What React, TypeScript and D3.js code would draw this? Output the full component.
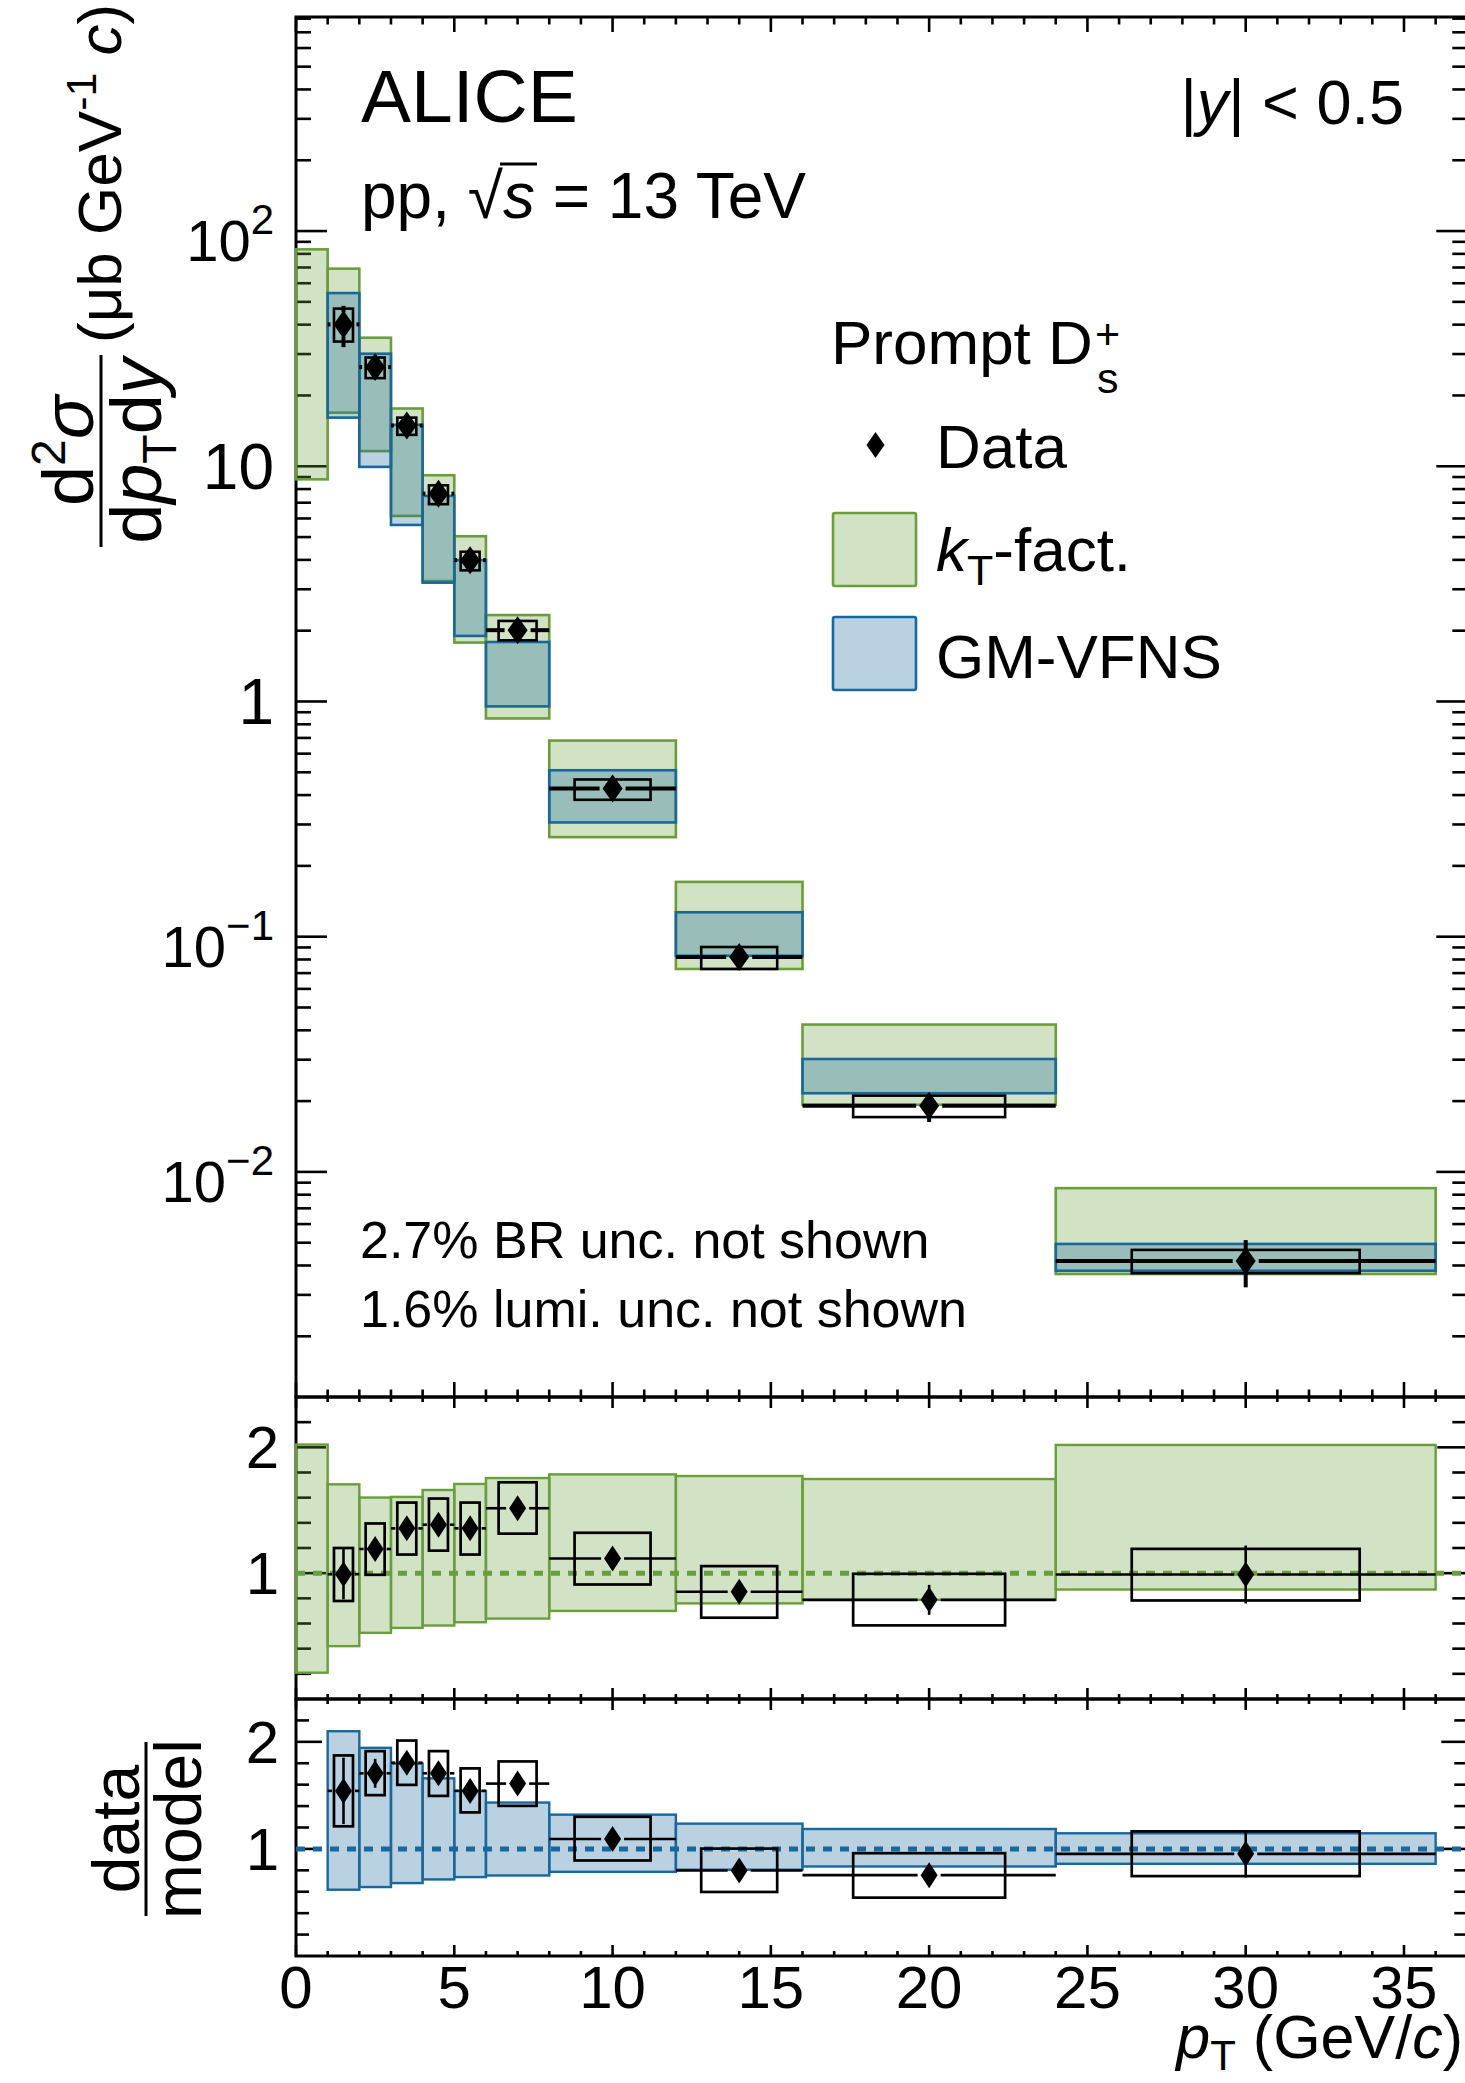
import React from 'react'
import * as d3 from 'd3'

const FONT = "'Liberation Sans', Arial, Helvetica, sans-serif"

// pT bins of the measurement (GeV/c)
const binLo = [1, 2, 3, 4, 5, 6, 8, 12, 16, 24]
const binHi = [2, 3, 4, 5, 6, 8, 12, 16, 24, 36]

// d2sigma/dpTdy (ub GeV^-1 c)
const xsec = [40.1, 26.4, 14.9, 7.65, 3.99, 2.01, 0.427, 0.082, 0.0191, 0.00418]
const xsecStat = [8.0, 2.1, 0.75, 0.38, 0.2, 0.1, 0.022, 0.0045, 0.0028, 0.00095]
const xsecSystLo = [33.9, 23.7, 13.6, 6.9, 3.61, 1.82, 0.382, 0.0729, 0.0171, 0.00371]
const xsecSystHi = [46.8, 29.0, 16.1, 8.3, 4.33, 2.2, 0.466, 0.0904, 0.0211, 0.00466]

// kT-factorisation prediction (one extra bin 0-1)
const ktBinLo = [0, 1, 2, 3, 4, 5, 6, 8, 12, 16, 24]
const ktBinHi = [1, 2, 3, 4, 5, 6, 8, 12, 16, 24, 36]
const ktMin = [8.8, 16.9, 11.6, 6.15, 3.25, 1.78, 0.847, 0.265, 0.0729, 0.0193, 0.00368]
const ktMax = [83.6, 69.2, 35.2, 17.6, 9.16, 5.04, 2.33, 0.682, 0.171, 0.0423, 0.00853]

// GM-VFNS prediction
const gmMin = [16.1, 9.94, 5.63, 3.2, 1.9, 0.953, 0.306, 0.083, 0.0216, 0.0038]
const gmMax = [54.5, 30.1, 15.0, 7.48, 3.99, 1.79, 0.51, 0.127, 0.0302, 0.00494]

// data / kT-fact.
const ratioKt = [0.992, 1.192, 1.356, 1.385, 1.356, 1.516, 1.116, 0.852, 0.788, 0.989]
const ratioKtStat = [0.2, 0.094, 0.068, 0.069, 0.068, 0.076, 0.06, 0.045, 0.119, 0.23]
const ratioKtSystLo = [0.779, 0.987, 1.148, 1.179, 1.148, 1.314, 0.91, 0.646, 0.585, 0.783]
const ratioKtSystHi = [1.2, 1.395, 1.561, 1.593, 1.561, 1.722, 1.321, 1.056, 0.995, 1.193]
const ktBandMin = [0.209, 0.42, 0.526, 0.565, 0.584, 0.61, 0.639, 0.7, 0.76, 0.788, 0.87]
const ktBandMax = [2.022, 1.706, 1.601, 1.606, 1.661, 1.709, 1.756, 1.785, 1.772, 1.748, 2.019]

// data / GM-VFNS
const ratioGm = [1.542, 1.706, 1.805, 1.706, 1.542, 1.61, 1.093, 0.799, 0.755, 0.954]
const ratioGmStat = [0.31, 0.135, 0.09, 0.085, 0.077, 0.08, 0.066, 0.045, 0.11, 0.22]
const ratioGmSystLo = [1.211, 1.502, 1.598, 1.495, 1.341, 1.402, 0.892, 0.598, 0.545, 0.746]
const ratioGmSystHi = [1.873, 1.913, 2.012, 1.913, 1.752, 1.817, 1.3, 1.003, 0.96, 1.164]
const gmBandMin = [0.619, 0.644, 0.681, 0.715, 0.737, 0.752, 0.786, 0.806, 0.836, 0.861]
const gmBandMax = [2.099, 1.944, 1.796, 1.659, 1.542, 1.433, 1.32, 1.236, 1.186, 1.146]

// tick labels
const xLabels = [0, 5, 10, 15, 20, 25, 30, 35]
const yTopLabels = [
  {v: 100, base: '10', exp: '2'},
  {v: 10, base: '10', exp: ''},
  {v: 1, base: '1', exp: ''},
  {v: 0.1, base: '10', exp: '\u22121'},
  {v: 0.01, base: '10', exp: '\u22122'},
]
const yRatioLabels = [1, 2]

const GREEN = '#6a9e3a'
const GREEN_FILL = 'rgba(106,158,58,0.3)'
const BLUE = '#18689d'
const BLUE_FILL = 'rgba(24,104,157,0.3)'

const x = d3.scaleLinear().domain([0, 37]).range([296, 1467.3])
const yTop = d3.scaleLog().domain([1.104e-3, 813]).range([1397, 17])
const yMid = d3.scaleLinear().domain([0, 2.4]).range([1699, 1397])
const yBot = d3.scaleLinear().domain([0, 2.4]).range([1956, 1699])
const XL = x(0), XR = x(37)

const Bands = ({lo, hi, min, max, y, stroke, fill, sw}) => (
  <g>
    {lo.map((l, i) => (
      <rect key={i} x={x(l)} y={y(max[i])} width={x(hi[i]) - x(l)}
        height={y(min[i]) - y(max[i])} fill={fill} stroke={stroke} strokeWidth={sw}/>
    ))}
  </g>
)

const Points = ({val, stat, sLo, sHi, y, lw, boxW, mw, mh}) => (
  <g>
    {binLo.map((l, i) => {
      const h = binHi[i]
      const c = (l + h) / 2
      const cx = x(c), cy = y(val[i])
      const half = 0.3 * (h - l)
      const yUp = y(val[i] + stat[i]), yDn = y(val[i] - stat[i])
      const gap = mw + 3
      return (
        <g key={i}>
          <line x1={x(l)} x2={cx - gap} y1={cy} y2={cy} stroke="#000" strokeWidth={lw}/>
          <line x1={cx + gap} x2={x(h)} y1={cy} y2={cy} stroke="#000" strokeWidth={lw}/>
          {cy - yUp > mh && <line x1={cx} x2={cx} y1={yUp} y2={cy - mh + 2} stroke="#000" strokeWidth={lw}/>}
          {yDn - cy > mh && <line x1={cx} x2={cx} y1={cy + mh - 2} y2={yDn} stroke="#000" strokeWidth={lw}/>}
          <rect x={x(c - half)} y={y(sHi[i])} width={x(c + half) - x(c - half)}
            height={y(sLo[i]) - y(sHi[i])} fill="none" stroke="#000" strokeWidth={boxW}/>
          <path d={`M${cx},${cy - mh}L${cx + mw},${cy}L${cx},${cy + mh}L${cx - mw},${cy}Z`} fill="#000"/>
        </g>
      )
    })}
  </g>
)

const XTicks = ({yT, yB, maj, min}) => (
  <g stroke="#000" strokeWidth={2.6}>
    {d3.range(0, 38).map(v => {
      const len = v % 5 === 0 ? maj : min
      return (
        <g key={v}>
          <line x1={x(v)} x2={x(v)} y1={yB} y2={yB - len}/>
          <line x1={x(v)} x2={x(v)} y1={yT} y2={yT + len}/>
        </g>
      )
    })}
  </g>
)

const YTicks = ({ticks, y, maj, min}) => (
  <g stroke="#000" strokeWidth={2.6}>
    {ticks.map((t, i) => {
      const len = t.major ? maj : min
      return (
        <g key={i}>
          <line x1={XL} x2={XL + len} y1={y(t.v)} y2={y(t.v)}/>
          <line x1={XR} x2={XR - len} y1={y(t.v)} y2={y(t.v)}/>
        </g>
      )
    })}
  </g>
)

const topTicks = d3.range(-3, 3)
  .flatMap(e => d3.range(1, 10).map(k => ({v: k * Math.pow(10, e), major: k === 1})))
  .filter(t => t.v > 1.104e-3 && t.v < 813)
const ratioTicks = d3.range(1, 12).map(i => ({v: i * 0.2, major: i === 5 || i === 10}))

export default function App() {
  return (
    <svg width={1465} height={2083} style={{position: 'absolute', left: 0, top: 0}}
      fontFamily={FONT}>
      <rect width={1465} height={2083} fill="#fff"/>

      {/* frames and ticks */}
      <g fill="none" stroke="#000" strokeWidth={3}>
        <rect x={XL} y={17} width={XR - XL} height={1397 - 17}/>
        <rect x={XL} y={1397} width={XR - XL} height={1699 - 1397}/>
        <rect x={XL} y={1699} width={XR - XL} height={1956 - 1699}/>
      </g>
      <XTicks yT={17} yB={1397} maj={15} min={7.5}/>
      <XTicks yT={1397} yB={1699} maj={11} min={5}/>
      <XTicks yT={1699} yB={1956} maj={11} min={5}/>
      <YTicks ticks={topTicks} y={yTop} maj={31} min={15}/>
      <YTicks ticks={ratioTicks} y={yMid} maj={30} min={15}/>
      <YTicks ticks={ratioTicks} y={yBot} maj={26} min={13}/>

      {/* top pad */}
      <Bands lo={ktBinLo} hi={ktBinHi} min={ktMin} max={ktMax} y={yTop} stroke={GREEN} fill={GREEN_FILL} sw={2.6}/>
      <Bands lo={binLo} hi={binHi} min={gmMin} max={gmMax} y={yTop} stroke={BLUE} fill={BLUE_FILL} sw={2.6}/>
      <Points val={xsec} stat={xsecStat} sLo={xsecSystLo} sHi={xsecSystHi} y={yTop}
        lw={4} boxW={2.6} mw={10} mh={14}/>

      {/* middle pad: data / kT-fact. */}
      <Bands lo={ktBinLo} hi={ktBinHi} min={ktBandMin} max={ktBandMax} y={yMid} stroke={GREEN} fill={GREEN_FILL} sw={2.4}/>
      <line x1={XL} x2={XR} y1={yMid(1)} y2={yMid(1)} stroke={GREEN} strokeWidth={5} strokeDasharray="9 8"/>
      <Points val={ratioKt} stat={ratioKtStat} sLo={ratioKtSystLo} sHi={ratioKtSystHi} y={yMid}
        lw={2.6} boxW={2.7} mw={8.5} mh={13}/>

      {/* bottom pad: data / GM-VFNS */}
      <Bands lo={binLo} hi={binHi} min={gmBandMin} max={gmBandMax} y={yBot} stroke={BLUE} fill={BLUE_FILL} sw={2.4}/>
      <line x1={XL} x2={XR} y1={yBot(1)} y2={yBot(1)} stroke={BLUE} strokeWidth={5} strokeDasharray="9 8"/>
      <Points val={ratioGm} stat={ratioGmStat} sLo={ratioGmSystLo} sHi={ratioGmSystHi} y={yBot}
        lw={2.6} boxW={2.7} mw={8.5} mh={13}/>

      {/* tick labels */}
      {yTopLabels.map(l => l.exp ? (
        <text key={l.v} x={274} y={yTop(l.v) + 30} textAnchor="end" fontSize={58}>
          {l.base}<tspan fontSize={42} dy={-27}>{l.exp}</tspan>
        </text>
      ) : (
        <text key={l.v} x={274} y={yTop(l.v) + 23} textAnchor="end" fontSize={64}>{l.base}</text>
      ))}
      {yRatioLabels.map(v => (
        <g key={v}>
          <text x={279} y={yMid(v) + 21} textAnchor="end" fontSize={60}>{v}</text>
          <text x={279} y={yBot(v) + 21} textAnchor="end" fontSize={60}>{v}</text>
        </g>
      ))}
      {xLabels.map(v => (
        <text key={v} x={x(v)} y={2008} textAnchor="middle" fontSize={60}>{v}</text>
      ))}
      <text x={1463} y={2058} textAnchor="end" fontSize={61}>
        <tspan fontStyle="italic">p</tspan><tspan fontSize={42} dy={12}>T</tspan>
        <tspan dy={-12}> (GeV/</tspan><tspan fontStyle="italic">c</tspan>)
      </text>

      {/* y axis titles */}
      <g transform="rotate(-90)">
        <line x1={-547} x2={-355} y1={101} y2={101} stroke="#000" strokeWidth={3}/>
        <text x={-451} y={93} textAnchor="middle" fontSize={72}>
          d<tspan fontSize={48} dy={-28}>2</tspan><tspan dy={28} fontStyle="italic">σ</tspan>
        </text>
        <text x={-451} y={161} textAnchor="middle" fontSize={72}>
          d<tspan fontStyle="italic">p</tspan><tspan fontSize={48} dy={15}>T</tspan>
          <tspan dy={-15}>d</tspan><tspan fontStyle="italic">y</tspan>
        </text>
        <text x={-343} y={121} fontSize={62}>
          (μb GeV<tspan fontSize={43} dy={-25}>-1</tspan><tspan dy={25}> </tspan>
          <tspan fontStyle="italic">c</tspan>)
        </text>

        <line x1={-1916} x2={-1742} y1={146} y2={146} stroke="#000" strokeWidth={3}/>
        <text x={-1829} y={139} textAnchor="middle" fontSize={66}>data</text>
        <text x={-1829} y={201} textAnchor="middle" fontSize={66}>model</text>
      </g>

      {/* labels */}
      <text x={361} y={122} fontSize={75}>ALICE</text>
      <text x={361} y={218} fontSize={64}>
        pp, √<tspan fontStyle="italic">s</tspan> = 13 TeV
      </text>
      <line x1={500} x2={537} y1={164} y2={164} stroke="#000" strokeWidth={3}/>
      <text x={1404} y={124} fontSize={63} textAnchor="end">
        |<tspan fontStyle="italic">y</tspan>| &lt; 0.5
      </text>

      <text x={360} y={1258} fontSize={52}>2.7% BR unc. not shown</text>
      <text x={360} y={1327} fontSize={52}>1.6% lumi. unc. not shown</text>

      {/* legend */}
      <text x={831} y={364} fontSize={62}>Prompt D</text>
      <text x={1095} y={349} fontSize={43}>+</text>
      <text x={1097} y={393} fontSize={43}>s</text>
      <path d="M875.5,432L884.5,445L875.5,458L866.5,445Z" fill="#000"/>
      <text x={936} y={468} fontSize={62}>Data</text>
      <rect x={833} y={513} width={83} height={73} rx={2} fill={GREEN_FILL} stroke={GREEN} strokeWidth={2.6}/>
      <text x={936} y={571} fontSize={62}>
        <tspan fontStyle="italic">k</tspan><tspan fontSize={43} dy={14}>T</tspan><tspan dy={-14}>-fact.</tspan>
      </text>
      <rect x={833} y={617} width={83} height={73} rx={2} fill={BLUE_FILL} stroke={BLUE} strokeWidth={2.6}/>
      <text x={936} y={678} fontSize={62}>GM-VFNS</text>
    </svg>
  )
}
